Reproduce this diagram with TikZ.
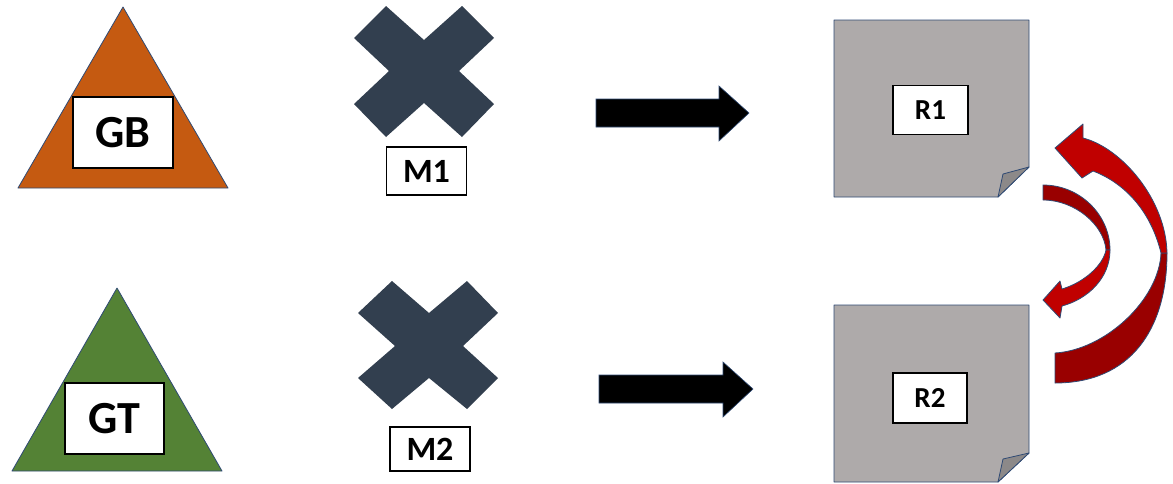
\documentclass[tikz,border=0pt]{standalone}
\usepackage{fontspec}
\setmainfont{Carlito}
\definecolor{tri1}{HTML}{C55A11}
\definecolor{tri2}{HTML}{548235}
\definecolor{crossc}{HTML}{323F4F}
\definecolor{docc}{HTML}{AEAAAA}
\definecolor{foldc}{HTML}{8C8989}
\definecolor{edgec}{HTML}{2F4A74}
\definecolor{redA}{HTML}{C00000}
\definecolor{redB}{HTML}{990000}
\begin{document}
\begin{tikzpicture}[x=1pt,y=-1pt,
  shapeline/.style={draw=edgec,line width=0.8pt,line join=round},
  lbl/.style={draw=black,line width=1.2pt,fill=white,font=\bfseries,inner sep=0pt,anchor=center},
  bigtxt/.style={lbl,font=\fontsize{46}{46}\selectfont\bfseries},
  midtxt/.style={lbl,font=\fontsize{34}{34}\selectfont\bfseries},
  smalltxt/.style={lbl,font=\fontsize{29}{29}\selectfont\bfseries},
  blockarrow/.style={fill=black,draw=edgec,line width=0.6pt,line join=miter},
  crossshape/.style={fill=crossc,draw=none},
  docshape/.style={fill=docc,shapeline},
  foldshape/.style={fill=foldc,shapeline},
  redpart/.style={draw=edgec,line width=0.8pt,line join=round}
]
\useasboundingbox (0,0) rectangle (1173,483);

% triangles
\fill[tri1,shapeline] (123,7) -- (228,188) -- (18,188) -- cycle;
\fill[tri2,shapeline] (117,288) -- (222,471) -- (12,471) -- cycle;
\node[bigtxt,minimum width=100pt,minimum height=71pt] (GB) at (123,132.5) {GB};
\node[bigtxt,minimum width=99pt,minimum height=71pt] (GT) at (114.5,418.5) {GT};

% crosses
\fill[crossshape] (354,38) -- (386,6) -- (424,40) -- (462,6) -- (494,38) -- (459,71)
  -- (494,104) -- (462,137) -- (424,103) -- (386,137) -- (354,104) -- (389,71) -- cycle;
\fill[crossshape] (358,313) -- (392,281) -- (429,313) -- (467,281) -- (498,313) -- (463,346)
  -- (498,378) -- (467,409) -- (429,378) -- (392,409) -- (358,378) -- (395,346) -- cycle;
\node[midtxt,minimum width=80pt,minimum height=48pt] (M1) at (426.5,171) {M1};
\node[midtxt,minimum width=80pt,minimum height=44pt] (M2) at (430,449) {M2};

% block arrows
\path[blockarrow] (596,99) -- (719,99) -- (719,86) -- (749,113) -- (719,141) -- (719,127) -- (596,127) -- cycle;
\path[blockarrow] (599,375) -- (723,375) -- (723,362) -- (753,389) -- (723,417) -- (723,403) -- (599,403) -- cycle;

% documents
\path[docshape] (834,20) -- (1029,20) -- (1029,167) -- (998,197) -- (834,197) -- cycle;
\path[foldshape] (998,197) -- (1003,174) -- (1029,167) -- cycle;
\path[docshape] (834,305) -- (1029,305) -- (1029,453) -- (998,482) -- (834,482) -- cycle;
\path[foldshape] (998,482) -- (1003,459) -- (1029,453) -- cycle;
\node[smalltxt,minimum width=75pt,minimum height=49pt] (R1) at (930.5,110) {R1};
\node[smalltxt,minimum width=74pt,minimum height=50pt] (R2) at (930,398) {R2};

% big curved arrow (R2 -> R1)
\path[redpart,fill=redB] (1055,383) .. controls (1130,383) and (1167,330) .. (1167,253)
  -- (1161,253) .. controls (1159,300) and (1105,350) .. (1055,353) -- cycle;
\path[redpart,fill=redA] (1161,253) .. controls (1150,208) and (1122,182) .. (1093,171)
  -- (1082,178) -- (1055,148) -- (1083,124) -- (1083,138)
  .. controls (1122,148) and (1166,200) .. (1167,253) -- cycle;

% small curved arrow (R1 -> R2)
\path[redpart,fill=redB] (1043,185) .. controls (1080,185) and (1110,215) .. (1110,250)
  -- (1106,250) .. controls (1104,225) and (1075,200) .. (1043,200) -- cycle;
\path[redpart,fill=redA] (1106,250) .. controls (1103,265) and (1085,282) .. (1062,289)
  -- (1060,281) -- (1043,300) -- (1060,318) -- (1062,306)
  .. controls (1088,299) and (1110,278) .. (1110,250) -- cycle;
\end{tikzpicture}
\end{document}
